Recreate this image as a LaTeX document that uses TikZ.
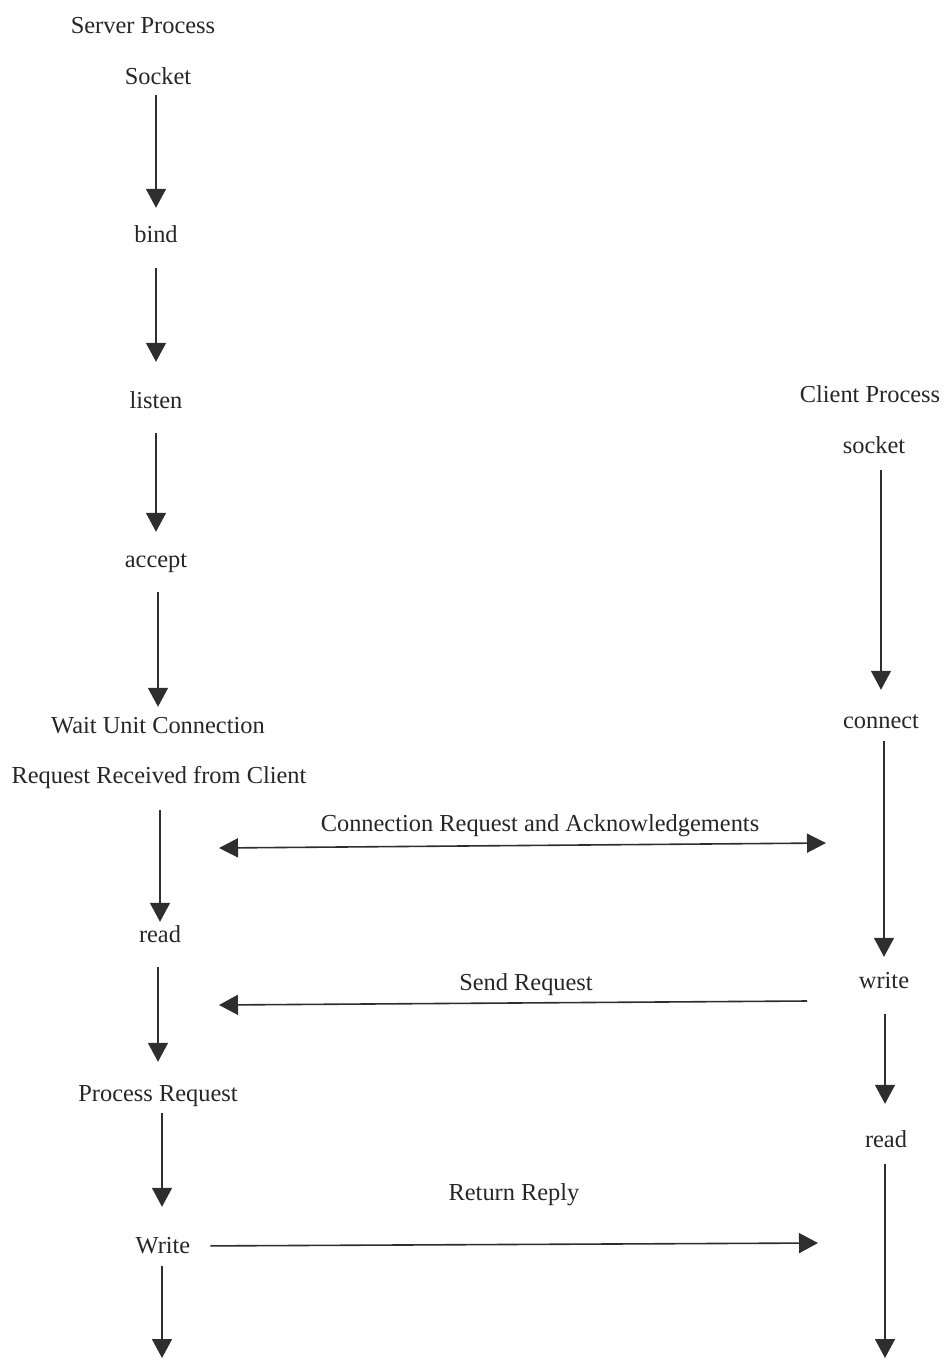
\documentclass[tikz,border=0pt]{standalone}
\usepackage{fontspec}
\setmainfont{Liberation Serif}
\usetikzlibrary{arrows.meta}
\definecolor{ink}{HTML}{2E2E2E}
\begin{document}
\begin{tikzpicture}[x=1pt,y=-1pt,
  lbl/.style={anchor=base,inner sep=0pt,text height=17pt,text depth=5pt,
              font=\fontsize{24.4}{29}\selectfont,text=black!85},
  flow/.style={draw=ink,line width=1.6pt,
               -{Triangle[length=19pt,width=20pt]}},
  both/.style={draw=ink,line width=1.6pt,
               {Triangle[length=19pt,width=19pt]}-{Triangle[length=19pt,width=19pt]}}]
\useasboundingbox (0,0) rectangle (943,1360);

% server column
\node[lbl] (srvtitle) at (143,33)   {Server Process};
\node[lbl] (ssock)    at (158,84)   {Socket};
\node[lbl] (sbind)    at (156,242)  {bind};
\node[lbl] (slisten)  at (156,408)  {listen};
\node[lbl] (saccept)  at (156,567)  {accept};
\node[lbl] (swait)    at (158,733)  {Wait Unit Connection};
\node[lbl] (sreq)     at (159,783)  {Request Received from Client};
\node[lbl] (sread)    at (160,942)  {read};
\node[lbl] (sproc)    at (158,1101) {Process Request};
\node[lbl] (swrite)   at (163,1253) {Write};
\coordinate (send) at (162,1360);

% client column
\node[lbl] (clititle) at (870,402)  {Client Process};
\node[lbl] (csock)    at (874,453)  {socket};
\node[lbl] (cconn)    at (881,728)  {connect};
\node[lbl] (cwrite)   at (884,988)  {write};
\node[lbl] (cread)    at (886,1147) {read};
\coordinate (cend) at (885,1360);

% server flow (vertical, at the x of the lower step)
\draw[flow,shorten <=6pt,shorten >=17pt]  (ssock.south -| sbind.north)     -- (sbind.north);
\draw[flow,shorten <=21pt,shorten >=29pt] (sbind.south -| slisten.north)   -- (slisten.north);
\draw[flow,shorten <=20pt,shorten >=18pt] (slisten.south -| saccept.north) -- (saccept.north);
\draw[flow,shorten <=20pt,shorten >=9pt]  (saccept.south -| swait.north)   -- (swait.north);
\draw[flow,shorten <=22pt,shorten >=3pt]  (sreq.south -| sread.north)      -- (sread.north);
\draw[flow,shorten <=20pt,shorten >=22pt] (sread.south -| sproc.north)     -- (sproc.north);
\draw[flow,shorten <=7pt,shorten >=29pt]  (sproc.south -| send)            -- (send |- swrite.north);
\draw[flow,shorten <=8pt,shorten >=2pt]   (swrite.south -| send)           -- (send);

% client flow
\draw[flow,shorten <=12pt,shorten >=21pt] (csock.south -| cconn.north)  -- (cconn.north);
\draw[flow,shorten <=8pt,shorten >=14pt]  (cconn.south -| cwrite.north) -- (cwrite.north);
\draw[flow,shorten <=21pt,shorten >=26pt] (cwrite.south -| cend)        -- (cend |- cread.north);
\draw[flow,shorten <=12pt,shorten >=2pt]  (cread.south -| cend)         -- (cend);

% messages between the two processes
\coordinate (ackL) at (219,848);
\coordinate (ackR) at (826,843);
\draw[both] (ackL) -- (ackR);
\node[lbl] (acklbl) at (540,831) {Connection Request and Acknowledgements};

\coordinate (sndR) at (807,1001);
\coordinate (sndL) at (219,1005);
\draw[flow] (sndR) -- (sndL);
\node[lbl] (sndlbl) at (526,990) {Send Request};

\coordinate (repR) at (818,1243);
\draw[flow,shorten <=20pt] (swrite.east |- 0,1246) -- (repR);
\node[lbl] (replbl) at (514,1200) {Return Reply};
\end{tikzpicture}
\end{document}
